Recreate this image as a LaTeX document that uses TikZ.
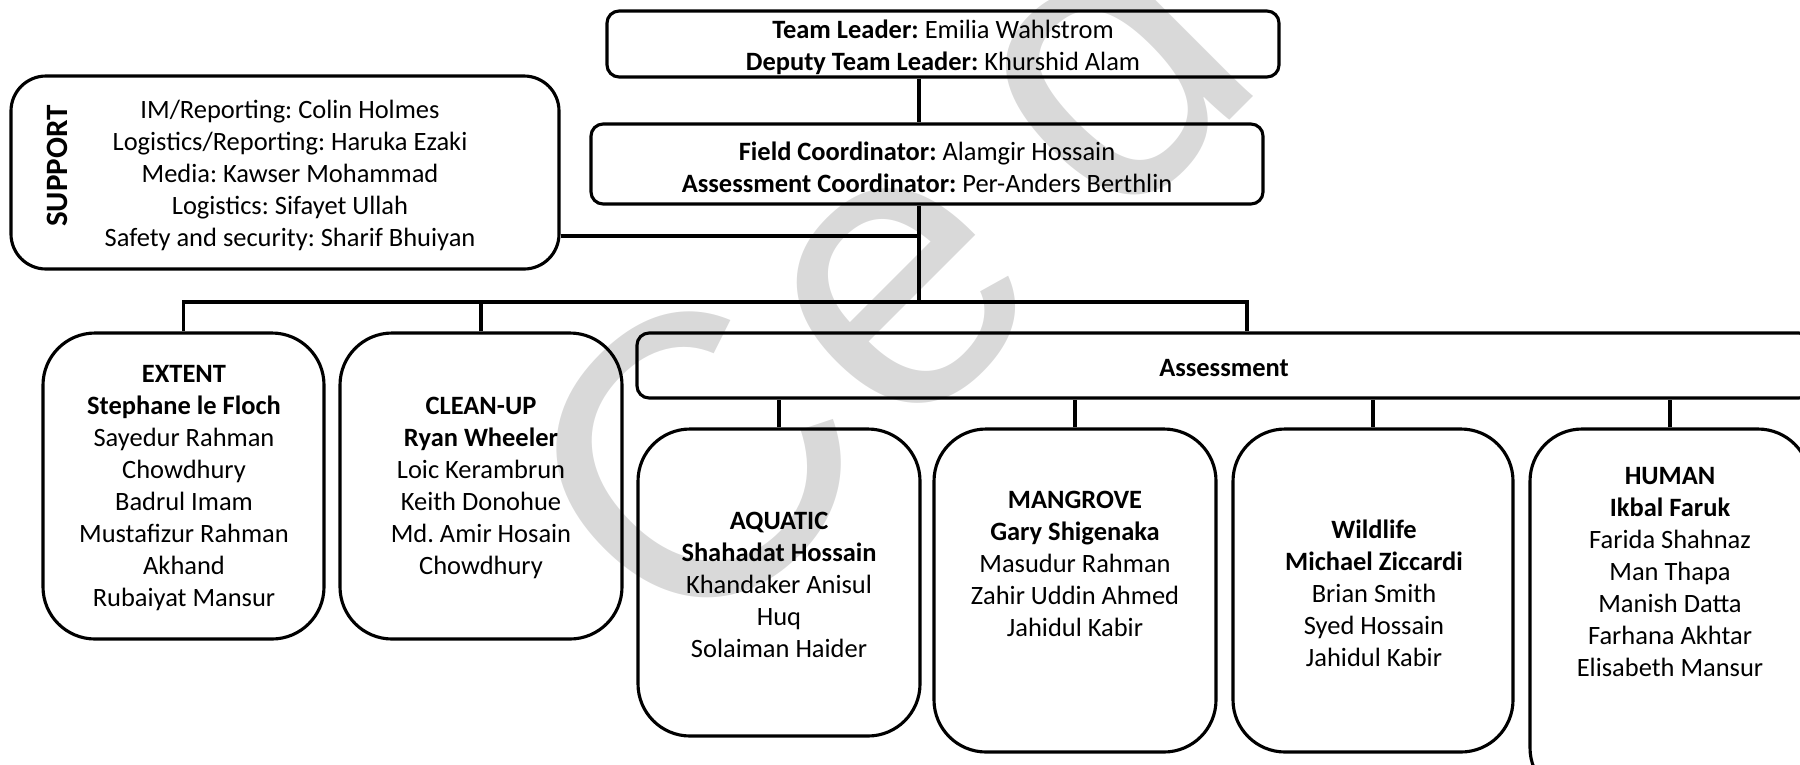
\documentclass[tikz,border=0pt]{standalone}
\usepackage{fontspec}
\setmainfont{Carlito}
\newfontfamily\wmfont{Liberation Sans}
\usetikzlibrary{fit}
\definecolor{wmgray}{RGB}{217,217,217}
\frenchspacing
\tikzset{
  box/.style={draw, line width=1.5pt, rounded corners=#1, inner sep=0pt},
  txt/.style={align=center, inner sep=0pt, font=\fontsize{12.7pt}{15.36pt}\selectfont},
  link/.style={draw, line width=1.5pt},
}
\begin{document}
\begin{tikzpicture}[x=0.48pt, y=-0.48pt]
\useasboundingbox (0,0) rectangle (1800,764);
\clip (0,0) rectangle (1800,764);
% watermark
\node[anchor=base west, inner sep=0pt, rotate=45, text=wmgray,
      font=\wmfont\fontsize{192pt}{200pt}\selectfont] (wm) at (688,662) {C\kern0.03em e\kern0.2em d};

% boxes
\node[box=5.8pt, fit={(607,11) (1279,77)}] (tl) {};
\node[box=5.8pt, fit={(591,124) (1263,204)}] (fc) {};
\node[box=16.8pt, fit={(11,76) (559,269)}] (sup) {};
\node[box=25pt, fit={(43,333) (324,639)}] (ext) {};
\node[box=25pt, fit={(340,333) (622,639)}] (cln) {};
\node[box=5.8pt, fit={(637,333) (1811,398)}] (ass) {};
\node[box=25pt, fit={(638,429) (920,736)}] (aq) {};
\node[box=25pt, fit={(934,429) (1216,752)}] (mg) {};
\node[box=25pt, fit={(1233,429) (1513,752)}] (wl) {};
\node[box=25pt, fit={(1530,429) (1810,800)}] (hu) {};

% texts
\node[txt] (tlt) at (943,47) {\textbf{Team Leader:} Emilia Wahlstrom\\\textbf{Deputy Team Leader:} Khurshid Alam};
\node[txt] (fct) at (927,167) {\textbf{Field Coordinator:} Alamgir Hossain\\\textbf{Assessment Coordinator:} Per-Anders Berthlin};
\node[txt] (supt) at (290,175) {IM/Reporting: Colin Holmes\\Logistics/Reporting: Haruka Ezaki\\Media: Kawser Mohammad\\Logistics: Sifayet Ullah\\Safety and security: Sharif Bhuiyan};
\node[inner sep=0pt, rotate=90, font=\bfseries\fontsize{14.9pt}{16pt}\selectfont] (supl) at (57,166) {SUPPORT};
\node[txt] (extt) at (184,488) {\textbf{EXTENT}\\\textbf{Stephane le Floch}\\Sayedur Rahman\\Chowdhury\\Badrul Imam\\Mustafizur Rahman\\Akhand\\Rubaiyat Mansur};
\node[txt] (clnt) at (481,488) {\textbf{CLEAN-UP}\\\textbf{Ryan Wheeler}\\Loic Kerambrun\\Keith Donohue\\Md. Amir Hosain\\Chowdhury};
\node[txt] (asst) at (1224,368) {\textbf{Assessment}};
\node[txt] (aqt) at (779,585) {\textbf{AQUATIC}\\\textbf{Shahadat Hossain}\\Khandaker Anisul\\Huq\\Solaiman Haider};
\node[txt] (mgt) at (1075,564) {\textbf{MANGROVE}\\\textbf{Gary Shigenaka}\\Masudur Rahman\\Zahir Uddin Ahmed\\Jahidul Kabir};
\node[txt] (wlt) at (1374,593) {\textbf{Wildlife}\\\textbf{Michael Ziccardi}\\Brian Smith\\Syed Hossain\\Jahidul Kabir};
\node[txt] (hut) at (1670,572) {\textbf{HUMAN}\\\textbf{Ikbal Faruk}\\Farida Shahnaz\\Man Thapa\\Manish Datta\\Farhana Akhtar\\Elisabeth Mansur};

% junction coordinates
\coordinate (tr) at (919,302);
\coordinate (sj) at (919,236);
\coordinate (ad) at (1247,302);

% connectors
\draw[link] (tl.south -| tr) -- (fc.north -| tr);
\draw[link] (fc.south -| tr) -- (tr);
\draw[link] (sj -| sup.east) -- (sj);
\draw[link] (ext.north) |- (ad) -- (ad |- ass.north);
\draw[link] (cln.north) -- (cln.north |- tr);
\draw[link] (aq.north) -- (aq.north |- ass.south);
\draw[link] (mg.north) -- (mg.north |- ass.south);
\draw[link] (wl.north) -- (wl.north |- ass.south);
\draw[link] (hu.north) -- (hu.north |- ass.south);
\end{tikzpicture}
\end{document}
